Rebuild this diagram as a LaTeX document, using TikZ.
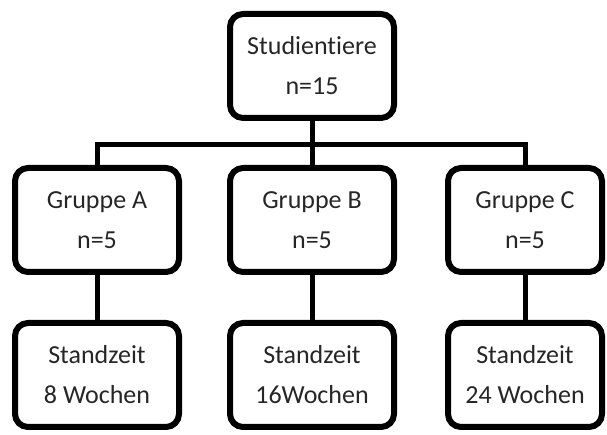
\documentclass[tikz,border=0pt]{standalone}
\usepackage{fontspec}
\setmainfont{Carlito}[Ligatures=NoCommon]
\usetikzlibrary{positioning}
\tikzset{
  box/.style={rectangle, draw=black, line width=6pt, rounded corners=13pt,
    minimum width=164pt, minimum height=104pt, align=center,
    text=black!85, font=\fontsize{26}{40}\selectfont},
  conn/.style={line width=5pt},
}

\begin{document}
\begin{tikzpicture}[x=1pt, y=1pt, node distance=44pt and 45pt]
  \useasboundingbox (0,0) rectangle (607,435);

  \node[box]                         (top)  at (312,369) {Studientiere\\n=15};
  \node[box, below=of top]           (grpB) {Gruppe B\\n=5};
  \node[box, left=of grpB]           (grpA) {Gruppe A\\n=5};
  \node[box, right=48pt of grpB, minimum width=154pt] (grpC) {Gruppe C\\n=5};
  \node[box, below=45pt of grpA]     (stdA) {Standzeit\\8 Wochen};
  \node[box, below=45pt of grpB]     (stdB) {Standzeit\\16Wochen};
  \node[box, below=45pt of grpC, minimum width=154pt] (stdC) {Standzeit\\24 Wochen};

  % horizontal bar joining the groups
  \coordinate (bus) at (312,290);

  \draw[conn] (top)  -- (grpB);
  \draw[conn] (grpA) |- (bus) -| (grpC);
  \draw[conn] (grpA) -- (stdA);
  \draw[conn] (grpB) -- (stdB);
  \draw[conn] (grpC) -- (stdC);

\end{tikzpicture}
\end{document}
